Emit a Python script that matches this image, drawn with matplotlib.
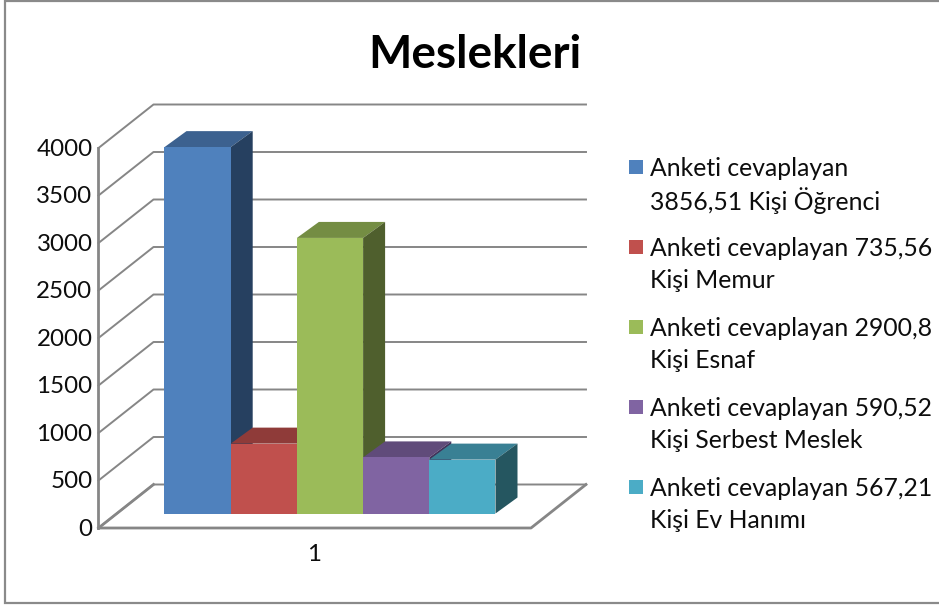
import matplotlib
matplotlib.use("Agg")
import matplotlib.pyplot as plt
from matplotlib.patches import Polygon, Rectangle

title = "Meslekleri"
values = [3856.51, 735.56, 2900.8, 590.52, 567.21]
labels = [("Anketi cevaplayan", "3856,51 Kişi Öğrenci"),
          ("Anketi cevaplayan 735,56", "Kişi Memur"),
          ("Anketi cevaplayan 2900,8", "Kişi Esnaf"),
          ("Anketi cevaplayan 590,52", "Kişi Serbest Meslek"),
          ("Anketi cevaplayan 567,21", "Kişi Ev Hanımı")]
y_ticks = [0, 500, 1000, 1500, 2000, 2500, 3000, 3500, 4000]
category = "1"
front_colors = ["#4F81BD", "#C0504D", "#9BBB59", "#8064A2", "#4BACC6"]
top_colors = ["#3C618F", "#8F3B39", "#748D43", "#604B7A", "#398094"]
side_colors = ["#264060", "#602827", "#4F5F2D", "#41325A", "#255660"]

W, H = 939, 607
plt.rcParams['font.family'] = ['Lato', 'DejaVu Sans']
fig = plt.figure(figsize=(W / 100, H / 100), dpi=100)
ax = fig.add_axes([0, 0, 1, 1])
ax.axis("off")

BW = 66.2      # px per bar
SY = 0.095     # px per value unit
X0, BASE = 164.5, 513.5
ax.set_xlim((0 - X0) / BW, (W - X0) / BW)
ax.set_ylim((BASE - H) / SY, BASE / SY)


def X(px):
    return (px - X0) / BW


def Yp(py):
    return (BASE - py) / SY


GRID = "#868686"
TXT = "#0d0d0d"
# depth of the bars
DX, DY = 22 / BW, 16 / SY

# chart frame
fl, ft, fb = X(5.5), Yp(1), Yp(603)
ax.plot([X(W + 5), fl, fl, X(W + 5)], [ft, ft, fb, fb], color="#8a8a8a", lw=1.6,
        solid_joinstyle="miter")

front_off = Yp(528)   # value 0 on the front axis
back_off = Yp(484.5)  # value 0 on the back wall
xf0, xf1, xb0, xb1 = X(98.5), X(531), X(153.5), X(586)

for v in y_ticks:
    ax.plot([xf0, xb0, xb1], [front_off + v, back_off + v, back_off + v],
            color=GRID, lw=1.4, zorder=1)
    ax.text(X(92.5), front_off + v + 10, str(v), ha="right", va="center_baseline", fontsize=17.4, color=TXT)
# floor and axes
ax.plot([xf0, xf1, xb1], [front_off, front_off, back_off], color=GRID, lw=2, zorder=1)
ax.plot([xf0, xf0], [front_off, front_off + y_ticks[-1]], color=GRID, lw=2, zorder=1)
ax.plot([xf0, xb0], [front_off, back_off], color=GRID, lw=2, zorder=1)
ax.text(X(314), Yp(552.5), category, ha="center", va="center_baseline", fontsize=17.4, color=TXT)

# 3D bars, back-left to front-right
for i, v in enumerate(values):
    z = 2 + i
    ax.add_patch(Polygon([(i, v), (i + DX, v + DY), (i + 1 + DX, v + DY), (i + 1, v)],
                         closed=True, fc=top_colors[i], ec="none", zorder=z))
    ax.add_patch(Polygon([(i + 1, 0), (i + 1 + DX, DY), (i + 1 + DX, v + DY), (i + 1, v)],
                         closed=True, fc=side_colors[i], ec="none", zorder=z))
    ax.bar(i, v, width=1, align="edge", color=front_colors[i], zorder=z + 0.5)

ax.text(X(475), Yp(55.5), title, ha="center", va="center", fontsize=33, fontweight="bold", color="black")

# legend
for i, (l1, l2) in enumerate(labels):
    cy = 167 + 80 * i
    ax.add_patch(Rectangle((X(629), Yp(cy + 7)), 14 / BW, 14 / SY, fc=front_colors[i], ec="none"))
    ax.text(X(650.5), Yp(cy), l1, ha="left", va="center_baseline", fontsize=17.8, color=TXT)
    ax.text(X(650.5), Yp(cy + 32), l2, ha="left", va="center_baseline", fontsize=17.8, color=TXT)

fig.savefig("out.png", dpi=100, facecolor="white")
